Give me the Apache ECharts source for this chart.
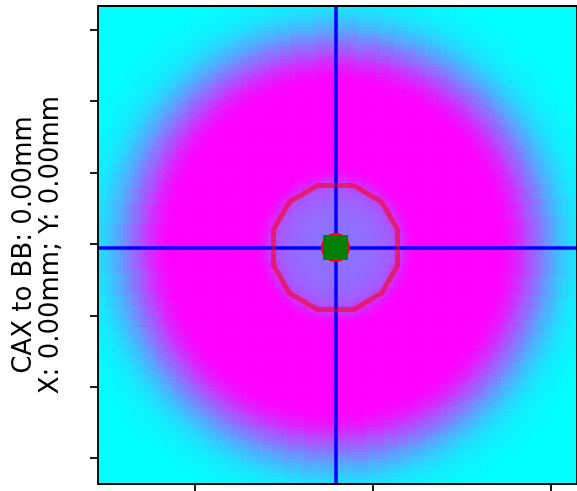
<!DOCTYPE html>
<html>
<head>
<meta charset="utf-8">
<script src="https://cdn.jsdelivr.net/npm/echarts@6/dist/echarts.min.js"></script>
<style>
  html, body { margin: 0; padding: 0; background: #ffffff; }
  #chart { width: 577px; height: 491px; }
</style>
</head>
<body>
<div id="chart"></div>
<script>
// ---- data ----
// Image window (pixel units of the EPID image)
const xRange = [23, 157.3];
const yRange = [13.3, 147.3];
// Tick positions (no labels shown in the reference)
const xTicks = [50, 100, 150];
const yTicks = [20, 40, 60, 80, 100, 120, 140];
// Radial intensity profile (0 = cyan, 1 = magenta), one value per image pixel of radius
const radialProfile = [
  0.54, 0.54, 0.54, 0.55, 0.55, 0.55, 0.56, 0.56, 0.57, 0.57,
  0.58, 0.59, 0.60, 0.61, 0.62, 0.64, 0.67, 0.72, 0.78, 0.86,
  0.92, 0.96, 0.99, 1, 1, 1, 1, 1, 1, 1,
  1, 1, 1, 1, 1, 1, 1, 1, 1, 1,
  1, 1, 1, 1, 1, 1, 0.99, 0.98, 0.96, 0.93,
  0.90, 0.86, 0.81, 0.76, 0.70, 0.65, 0.60, 0.55, 0.50, 0.44,
  0.39, 0.34, 0.29, 0.25, 0.21, 0.17, 0.14, 0.11, 0.09, 0.07,
  0.06, 0.05, 0.04, 0.03, 0.02, 0.02, 0.01, 0.01, 0, 0,
  0, 0, 0, 0, 0, 0, 0, 0, 0, 0,
  0, 0, 0, 0, 0, 0, 0
];
// Field centre (CAX), BB and EPID centre all coincide
const caxX = 89.6, caxY = 81.0;
const bbX = 89.6, bbY = 81.0;
// BB outline (rounded octagon) vertices
const ringX = [94.6, 102.5, 107.0, 107.0, 102.5, 94.6, 84.6, 76.7, 72.2, 72.2, 76.7, 84.6, 94.6];
const ringY = [63.6, 68.2, 76.0, 86.0, 93.8, 98.4, 98.4, 93.8, 86.0, 76.0, 68.2, 63.6, 63.6];
const yAxisTitle = 'CAX to BB: 0.00mm\nX: 0.00mm; Y: 0.00mm';

// ---- build image table from the radial profile ----
const imageCells = [];
for (let iy = 0; iy < 134; iy++) {
  const y = yRange[0] + 0.5 + iy;
  for (let ix = 0; ix < 135; ix++) {
    const x = xRange[0] + 0.5 + ix;
    const r = Math.round(Math.hypot(x - caxX, y - caxY));
    const v = radialProfile[Math.min(r, radialProfile.length - 1)];
    imageCells.push([x, y, v]);
  }
}
const ringData = ringX.map((x, i) => [x, ringY[i]]);

const chart = echarts.init(document.getElementById('chart'), null, { renderer: 'canvas' });
chart.setOption({
  animation: false,
  backgroundColor: '#ffffff',
  grid: {
    left: 98, top: 6, width: 480, height: 478,
    show: true, borderColor: '#000000', borderWidth: 1.8,
    backgroundColor: 'transparent', z: 30
  },
  xAxis: {
    type: 'value', min: xRange[0], max: xRange[1],
    axisLine: { show: false },
    splitLine: { show: false },
    axisLabel: { show: false },
    axisTick: { show: true, customValues: xTicks, length: 8, inside: false,
      lineStyle: { color: '#000000', width: 1.8 } }
  },
  yAxis: {
    type: 'value', min: yRange[0], max: yRange[1], inverse: true,
    axisLine: { show: false },
    splitLine: { show: false },
    axisLabel: { show: false },
    axisTick: { show: true, customValues: yTicks, length: 8, inside: false,
      lineStyle: { color: '#000000', width: 1.8 } },
    name: yAxisTitle,
    nameLocation: 'middle',
    nameGap: 33,
    nameTextStyle: {
      fontFamily: 'DejaVu Sans', fontSize: 26, lineHeight: 27,
      color: '#000000', align: 'center'
    }
  },
  visualMap: {
    show: false, type: 'continuous', min: 0, max: 1, dimension: 2,
    seriesIndex: 0,
    inRange: { color: ['#00ffff', '#ff00ff'] }
  },
  series: [
    {
      type: 'custom',
      data: imageCells,
      encode: { x: 0, y: 1 },
      clip: true,
      progressive: 0,
      silent: true,
      z: 1,
      renderItem: function (params, api) {
        const x = api.value(0), y = api.value(1);
        const p0 = api.coord([x - 0.5, y - 0.5]);
        const p1 = api.coord([x + 0.5, y + 0.5]);
        return {
          type: 'rect',
          shape: {
            x: Math.min(p0[0], p1[0]),
            y: Math.min(p0[1], p1[1]),
            width: Math.abs(p1[0] - p0[0]) + 0.7,
            height: Math.abs(p1[1] - p0[1]) + 0.7
          },
          style: { fill: api.visual('color'), stroke: null }
        };
      }
    },
    {
      type: 'line',
      data: ringData,
      showSymbol: false,
      symbol: 'none',
      silent: true,
      z: 5,
      lineStyle: { color: 'rgba(255,0,0,0.55)', width: 5, join: 'round' }
    },
    {
      type: 'scatter',
      data: [[bbX, bbY]],
      symbol: 'circle',
      symbolSize: 29,
      silent: true,
      z: 6,
      itemStyle: { color: '#ff0000', opacity: 1 }
    },
    {
      type: 'scatter',
      data: [[caxX, caxY]],
      symbol: 'rect',
      symbolSize: 25,
      silent: true,
      z: 7,
      itemStyle: { color: '#008000', opacity: 1 }
    },
    {
      type: 'line',
      data: [],
      silent: true,
      z: 8,
      markLine: {
        silent: true,
        symbol: ['none', 'none'],
        label: { show: false },
        animation: false,
        lineStyle: { color: '#0000ff', width: 3.5, type: 'solid', opacity: 1 },
        data: [{ xAxis: caxX }, { yAxis: caxY }]
      }
    }
  ]
});
</script>
</body>
</html>
